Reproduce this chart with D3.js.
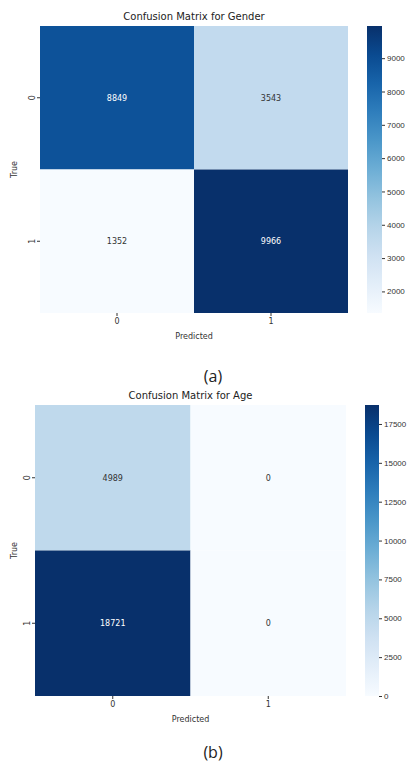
<!DOCTYPE html>
<html>
<head>
<meta charset="utf-8">
<script src="https://cdn.jsdelivr.net/npm/d3@7"></script>
<style>
  body { margin: 0; background: #fff; }
  svg { display: block; font-family: "DejaVu Sans", sans-serif; }
</style>
</head>
<body>
<svg id="vis"></svg>
<script>
// page size
const width = 409;
const height = 765;

// the two confusion matrices, rows = true, cols = predicted
const classLabels = ["0", "1"];
const genderValues = [[8849, 3543], [1352, 9966]];
const ageValues = [[4989, 0], [18721, 0]];

// colorbar tick labels
const genderTicks = [2000, 3000, 4000, 5000, 6000, 7000, 8000, 9000];
const ageTicks = [0, 2500, 5000, 7500, 10000, 12500, 15000, 17500];

// layout of each panel, estimated in pixels
const panels = [
  {title: "Confusion Matrix for Gender", caption: "(a)", values: genderValues, ticks: genderTicks,
   x0: 40, x1: 348, y0: 26, y1: 313, cbX: 367, cbW: 15, captionY: 382},
  {title: "Confusion Matrix for Age", caption: "(b)", values: ageValues, ticks: ageTicks,
   x0: 35, x1: 346, y0: 405, y1: 696, cbX: 365, cbW: 14, captionY: 758}
];

const svg = d3.select("#vis").attr("width", width).attr("height", height);

panels.forEach(p => drawMatrix(svg, p));

function drawMatrix(svg, p) {
  const flat = p.values.flat();
  const vmin = d3.min(flat), vmax = d3.max(flat);
  const color = d3.scaleSequential(d3.interpolateBlues).domain([vmin, vmax]);

  const x = d3.scaleBand().domain(classLabels).range([p.x0, p.x1]);
  const y = d3.scaleBand().domain(classLabels).range([p.y0, p.y1]);

  const cells = [];
  p.values.forEach((row, i) => row.forEach((v, j) =>
    cells.push({t: classLabels[i], pr: classLabels[j], v: v})));

  const g = svg.append("g");
  g.selectAll("rect.cell").data(cells).join("rect")
    .attr("class", "cell")
    .attr("x", d => x(d.pr)).attr("y", d => y(d.t))
    .attr("width", x.bandwidth()).attr("height", y.bandwidth())
    .attr("fill", d => color(d.v));

  // annotations, white on dark cells like seaborn
  g.selectAll("text.val").data(cells).join("text")
    .attr("class", "val")
    .attr("x", d => x(d.pr) + x.bandwidth() / 2)
    .attr("y", d => y(d.t) + y.bandwidth() / 2)
    .attr("text-anchor", "middle").attr("dy", "0.35em")
    .attr("font-size", 8)
    .attr("fill", d => d3.hsl(color(d.v)).l < 0.45 ? "#ffffff" : "#333333")
    .text(d => d.v);

  // axes
  const xAxis = d3.axisBottom(x).tickSize(3).tickPadding(2);
  const yAxis = d3.axisLeft(y).tickSize(3).tickPadding(2);
  const ax = g.append("g").attr("transform", `translate(0,${p.y1})`).call(xAxis);
  const ay = g.append("g").attr("transform", `translate(${p.x0},0)`).call(yAxis);
  [ax, ay].forEach(a => {
    a.select(".domain").remove();
    a.selectAll("line").attr("stroke", "#333");
    a.selectAll("text").attr("font-size", 8).attr("fill", "#333")
      .attr("font-family", "DejaVu Sans");
  });
  // row labels are rotated in seaborn
  ay.selectAll("text")
    .attr("text-anchor", "middle").attr("x", 0).attr("y", 0).attr("dy", null)
    .attr("transform", "translate(-5,0) rotate(-90)");

  g.append("text")
    .attr("x", (p.x0 + p.x1) / 2).attr("y", p.y1 + 26)
    .attr("text-anchor", "middle").attr("font-size", 8).attr("fill", "#333")
    .text("Predicted");
  const ty = (p.y0 + p.y1) / 2;
  g.append("text")
    .attr("transform", `translate(17,${ty}) rotate(-90)`)
    .attr("text-anchor", "middle").attr("font-size", 8).attr("fill", "#333")
    .text("True");

  g.append("text")
    .attr("x", (p.x0 + p.x1) / 2).attr("y", p.y0 - 6)
    .attr("text-anchor", "middle").attr("font-size", 10).attr("fill", "#222")
    .text(p.title);

  // colorbar
  const cbScale = d3.scaleLinear().domain([vmin, vmax]).range([p.y1, p.y0]);
  const gradId = "grad" + p.caption.replace(/\W/g, "");
  const grad = svg.append("defs").append("linearGradient")
    .attr("id", gradId).attr("x1", 0).attr("y1", 1).attr("x2", 0).attr("y2", 0);
  d3.range(0, 1.0001, 0.1).forEach(t =>
    grad.append("stop").attr("offset", t).attr("stop-color", d3.interpolateBlues(t)));
  g.append("rect")
    .attr("x", p.cbX).attr("y", p.y0)
    .attr("width", p.cbW).attr("height", p.y1 - p.y0)
    .attr("fill", `url(#${gradId})`);
  const cbAxis = d3.axisRight(cbScale).tickValues(p.ticks).tickSize(3).tickPadding(2)
    .tickFormat(d3.format("d"));
  const ac = g.append("g").attr("transform", `translate(${p.cbX + p.cbW},0)`).call(cbAxis);
  ac.select(".domain").remove();
  ac.selectAll("line").attr("stroke", "#333");
  ac.selectAll("text").attr("font-size", 8).attr("fill", "#333");

  // figure caption
  svg.append("text")
    .attr("x", 213).attr("y", p.captionY)
    .attr("text-anchor", "middle").attr("font-size", 16)
    .attr("font-family", "Open Sans, sans-serif").attr("fill", "#222")
    .text(p.caption);
}
</script>
</body>
</html>
